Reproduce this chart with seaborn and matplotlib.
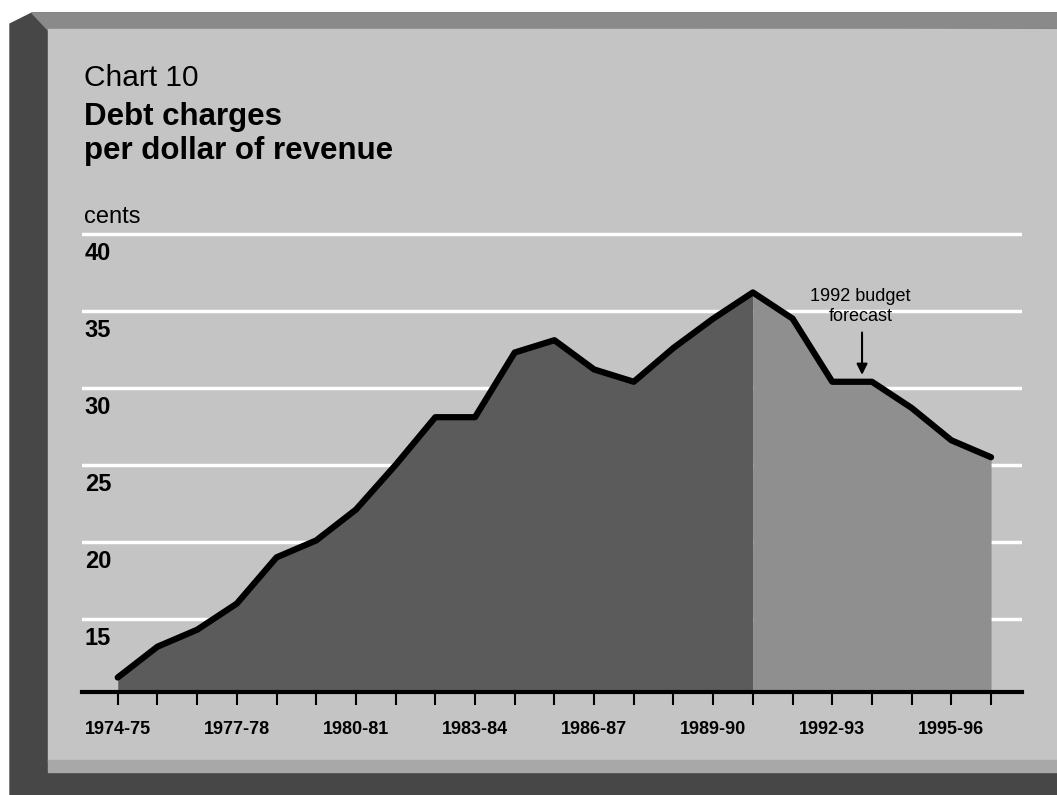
import matplotlib
matplotlib.use('Agg')
import matplotlib.pyplot as plt
from matplotlib.patches import Polygon, Rectangle
from matplotlib import transforms
import pandas as pd
import seaborn as sns

# data (cents of debt charges per dollar of revenue)
years = ['1974-75', '1975-76', '1976-77', '1977-78', '1978-79', '1979-80',
         '1980-81', '1981-82', '1982-83', '1983-84', '1984-85', '1985-86',
         '1986-87', '1987-88', '1988-89', '1989-90', '1990-91', '1991-92',
         '1992-93', '1993-94', '1994-95', '1995-96', '1996-97']
cents = [11.2, 13.2, 14.3, 16.0, 19.0, 20.1, 22.1, 25.0, 28.1, 28.1, 32.3, 33.1,
         31.2, 30.4, 32.6, 34.5, 36.2, 34.5, 30.4, 30.4, 28.7, 26.6, 25.5]
forecast_start = '1990-91'
y_ticks = [15, 20, 25, 30, 35, 40]

sns.set_style('white')
plt.rcParams['font.family'] = ['Liberation Sans', 'DejaVu Sans']
plt.rcParams['text.color'] = 'black'
plt.rcParams['xtick.color'] = 'black'
plt.rcParams['xtick.labelcolor'] = 'black'

df = pd.DataFrame({'year': years, 'cents': cents})
df['pos'] = range(len(df))
split = df.index[df.year == forecast_start][0]

fig = plt.figure(figsize=(10.57, 7.95), dpi=100)
fig.patch.set_facecolor('white')

# the bevelled card behind the chart, in pixel units
bg = fig.add_axes([0, 0, 1, 1], zorder=0)
bg.set_xlim(0, 1057)
bg.set_ylim(795, 0)
bg.axis('off')
bg.add_patch(Polygon([(10, 24), (32, 13), (1057, 13), (1057, 795), (10, 795)], color='#474747'))
bg.add_patch(Polygon([(32, 13), (1057, 13), (1057, 28), (48, 30)], color='#8a8a8a'))
bg.add_patch(Rectangle((48, 29), 1009, 732, color='#c4c4c4'))
bg.add_patch(Polygon([(48, 760), (1057, 760), (1057, 772), (48, 772)], color='#a8a8a8'))

bg.text(84, 86, 'Chart 10', size=21.5, va='baseline')
bg.text(84, 125, 'Debt charges', size=22.5, weight='bold', va='baseline')
bg.text(84, 159, 'per dollar of revenue', size=22.5, weight='bold', va='baseline')
bg.text(84, 223, 'cents', size=17, va='baseline')

ybot, ytop = 10.26, 40.58
ax = fig.add_axes([0.0776, 0.1296, 0.8893, 0.5874], zorder=1)
ax.patch.set_alpha(0)

for v in y_ticks:
    ax.axhline(v, color='white', lw=2.5, zorder=1)

hist = df[df.pos <= split]
fcst = df[df.pos >= split]
ax.fill_between(hist.pos, hist.cents, ybot, color='#5b5b5b', lw=0, zorder=2)
ax.fill_between(fcst.pos, fcst.cents, ybot, color='#8f8f8f', lw=0, zorder=2)
sns.lineplot(data=df, x='pos', y='cents', color='black', lw=4.5, ax=ax, zorder=3)

ax.set_xlim(-0.9, 22.78)
ax.set_ylim(ybot, ytop)
ax.set_xlabel('')
ax.set_ylabel('')
for side in ['top', 'left', 'right']:
    ax.spines[side].set_visible(False)
ax.spines['bottom'].set_color('black')
ax.spines['bottom'].set_linewidth(3)
ax.spines['bottom'].set_zorder(4)

ax.set_xticks(df.pos)
ax.set_xticklabels([y if i % 3 == 0 else '' for i, y in enumerate(years)],
                   fontweight='bold', fontsize=13)
ax.tick_params(axis='x', direction='out', length=9, width=1.5, color='black', pad=12, bottom=True)
ax.set_yticks([])

# y labels sit just under their gridlines
shift = transforms.ScaledTranslation(0, -0.2, fig.dpi_scale_trans)
for v in y_ticks:
    ax.text(0.003, v, str(v), transform=ax.get_yaxis_transform() + shift,
            ha='left', va='center', size=17, weight='bold')

ax.text(18.71, 35.3, '1992 budget\nforecast', ha='center', va='center', size=13, linespacing=1.25)
ax.annotate('', xy=(18.75, 30.85), xytext=(18.75, 33.6),
            arrowprops=dict(arrowstyle='-|>', color='black', lw=1.5, mutation_scale=16,
                            shrinkA=0, shrinkB=0))

fig.savefig('out.png', dpi=100)
